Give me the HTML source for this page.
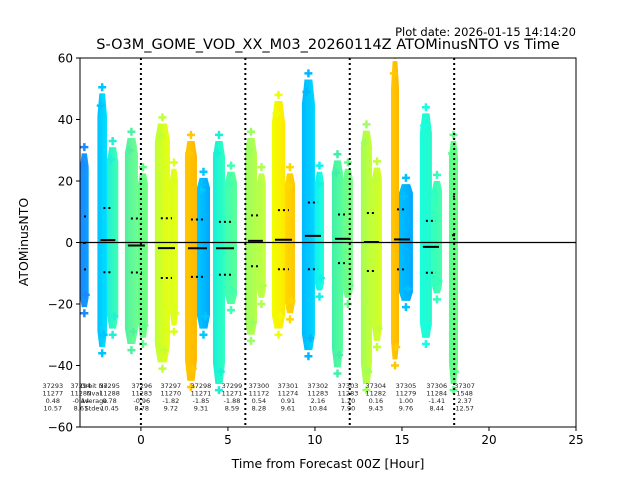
<!DOCTYPE html>
<html><head><meta charset="utf-8"><style>
body{margin:0;background:#fff;font-family:"Liberation Sans","DejaVu Sans",sans-serif}
svg{display:block}
</style></head><body>
<svg id="chart" width="640" height="480" xmlns="http://www.w3.org/2000/svg" font-family="DejaVu Sans, Liberation Sans, sans-serif">
<defs><clipPath id="pc"><rect x="80" y="58" width="496" height="369"/></clipPath></defs>
<text x="576" y="36" font-size="11.5" text-anchor="end">Plot date: 2026-01-15 14:14:20</text>
<text x="328" y="49" font-size="14.5" text-anchor="middle">S-O3M_GOME_VOD_XX_M03_20260114Z ATOMinusNTO vs Time</text>
<g id="marks" clip-path="url(#pc)"></g>
<g id="axes"></g>
<text x="328" y="468" font-size="12.5" text-anchor="middle">Time from Forecast 00Z [Hour]</text>
<text x="28" y="242" font-size="12.5" text-anchor="middle" transform="rotate(-90 28 242)">ATOMinusNTO</text>
</svg>
<script>
const orbitIds=["37293","37294","37295","37296","37297","37298","37299","37300","37301","37302","37303","37304","37305","37306","37307"];
const orbitNval=["11277","11280","11288","11283","11270","11271","11271","11172","11274","11283","11283","11282","11279","11284","1548"];
const orbitMean=[0.48,-0.14,0.78,-0.96,-1.82,-1.85,-1.88,0.54,0.91,2.16,1.20,0.16,1.00,-1.41,2.37];
const orbitStd=[10.57,8.61,10.45,8.78,9.72,9.31,8.59,8.28,9.61,10.84,7.90,9.43,9.76,8.44,12.57];
const orbitLabelTime=[-5.06,-3.45,-1.8,0.05,1.72,3.45,5.23,6.78,8.45,10.17,11.9,13.5,15.23,17.0,18.6];
// segments per orbit: [t0, t1, ymin, ymax, color0, color1]
const orbitSegments=[
 [],
 [[-3.5,-3.0,-21,29,"#1e88ff","#0aa0ff"]],
 [[-2.5,-1.95,-34,48.5,"#00c4ff","#00e0ff"],[-1.95,-1.3,-28,31,"#20f0d8","#40ffb0"]],
 [[-0.92,-0.17,-33,34,"#50f0a0","#70ff90"],[-0.17,0.4,-31,22.5,"#60ff88","#70ff80"]],
 [[0.8,1.67,-39,38.7,"#c0ff38","#e8ff10"],[1.67,2.13,-27,24,"#d8ff20","#e8ff10"]],
 [[2.53,3.22,-45,33,"#ffc800","#ffb800"],[3.22,3.97,-28,21,"#00c8ff","#00a8ff"]],
 [[4.14,4.83,-46,33,"#18f0d8","#30ffc0"],[4.83,5.52,-20,23,"#40ffb0","#58ff98"]],
 [[5.98,6.67,-30,34,"#98ff60","#b8ff48"],[6.67,7.18,-18,22.5,"#b0ff50","#c8ff38"]],
 [[7.53,8.28,-28,46,"#f0ff00","#ffe800"],[8.28,8.85,-23,22.5,"#ffd800","#ffc800"]],
 [[9.25,10.0,-35,53,"#00b8ff","#00d8ff"],[10.0,10.52,-15.6,23,"#10f0f0","#20ffd8"]],
 [[10.98,11.61,-40.6,26.7,"#40f0a8","#58ff98"],[11.61,12.18,-18,24,"#68ff88","#78ff80"]],
 [[12.64,13.28,-46,36.4,"#a0ff58","#c8ff30"],[13.28,13.85,-32,24.4,"#c0ff38","#d8ff20"]],
 [[14.37,14.83,-38,59,"#ffc800","#ffb800"],[14.83,15.63,-19,19,"#00c0ff","#00a8ff"]],
 [[16.03,16.72,-31,42,"#18ffe0","#28f8c8"],[16.72,17.3,-16.5,20,"#30ffc0","#48ffa8"]],
 [[17.7,18.22,-46,33,"#58ff88","#68ff80"]]
];
const xTicks=[0,5,10,15,20,25];
const yTicks=[-60,-40,-20,0,20,40,60];
const dayLines=[0,6,12,18];

const NS="http://www.w3.org/2000/svg";
const X0=-3.5,X1=25,PX0=80,PX1=576,Y0=-60,Y1=60,PY0=427,PY1=58;
function xs(h){return PX0+(h-X0)*(PX1-PX0)/(X1-X0);}
function ys(v){return PY0+(v-Y0)*(PY1-PY0)/(Y1-Y0);}
function mk(tag,attrs,parent){const e=document.createElementNS(NS,tag);for(const k in attrs)e.setAttribute(k,attrs[k]);parent.appendChild(e);return e;}
const svg=document.getElementById('chart');
const defs=svg.querySelector('defs');
const marks=document.getElementById('marks');
const axes=document.getElementById('axes');

let gi=0;
orbitSegments.forEach((segs,i)=>{
  if(!segs.length)return;
  const g=mk('g',{},marks);
  
  
  let tmin=1e9,tmax=-1e9;
  segs.forEach(s=>{
    const id='gr'+(gi++);
    const lg=mk('linearGradient',{id:id,x1:'0',x2:'1',y1:'0',y2:'0'},defs);
    mk('stop',{offset:'0','stop-color':s[4]},lg);mk('stop',{offset:'1','stop-color':s[5]},lg);
    const x=xs(s[0]),w=xs(s[1])-xs(s[0]);
    const yT=ys(s[3]),yB=ys(s[2]);
    const yTf=ys(s[3]*0.85),yBf=ys(s[2]*0.85);
    const pts=[[x+w*0.2,yT],[x+w*0.8,yT],[x+w,yTf],[x+w,yBf],[x+w*0.8,yB],[x+w*0.2,yB],[x,yBf],[x,yTf]];
    const r=mk('polygon',{points:pts.map(p=>p.join(',')).join(' '),fill:'url(#'+id+')'},g);
    
    
    [s[3]+2,s[2]-2,s[3]-4,s[2]+4].forEach((v,k)=>{
      const cx=x+w*(k<2?0.5:(k==2?0.35:0.65)),cy=ys(v);
      const p=mk('path',{d:`M${cx-4},${cy}h8M${cx},${cy-4}v8`,stroke:s[4],'stroke-width':2.5},g);
      
      
    });
    tmin=Math.min(tmin,s[0]);tmax=Math.max(tmax,s[1]);
  });
  const a=xs(tmin)+3,b=xs(tmax)-3;
  const m=mk('line',{x1:a,x2:b,y1:ys(orbitMean[i]),y2:ys(orbitMean[i]),stroke:'#000','stroke-width':2},g);
  
  
  [orbitMean[i]+orbitStd[i],orbitMean[i]-orbitStd[i]].forEach(v=>{
    const d=mk('line',{x1:a+3,x2:b-3,y1:ys(v),y2:ys(v),stroke:'#000','stroke-width':2,'stroke-dasharray':'2,3'},g);
    
    
  });
});

const z=mk('line',{x1:PX0,x2:PX1,y1:ys(0),y2:ys(0),stroke:'#000','stroke-width':1.2},marks);


dayLines.forEach(h=>{
  const l=mk('line',{x1:xs(h),x2:xs(h),y1:PY1,y2:PY0,stroke:'#000','stroke-width':2,'stroke-dasharray':'2,3'},marks);
  
  
});

orbitIds.forEach((id,i)=>{
  const t=mk('text',{x:xs(orbitLabelTime[i]),y:388,'font-size':6.5,'text-anchor':'middle',fill:'#222'},axes);
  
  
  [id,orbitNval[i],orbitMean[i].toFixed(2),orbitStd[i].toFixed(2)].forEach((s,k)=>{
    const ts=mk('tspan',{x:xs(orbitLabelTime[i]),dy:k?7.5:0},t);ts.textContent=s;
  });
});
const lgd=mk('text',{x:xs(-2.7),y:388,'font-size':6.5,'text-anchor':'middle',fill:'#222'},axes);


["Orbit No","Nval","Average","Stdev"].forEach((s,k)=>{const ts=mk('tspan',{x:xs(-2.7),dy:k?7.5:0},lgd);ts.textContent=s;});

const fr=mk('rect',{x:PX0,y:PY1,width:PX1-PX0,height:PY0-PY1,fill:'none',stroke:'#000','stroke-width':1},axes);


xTicks.forEach(v=>{
  const x=xs(v);
  const tk=mk('line',{x1:x,x2:x,y1:PY0,y2:PY0+4,stroke:'#000'},axes);
  
  
  const t=mk('text',{x:x,y:PY0+17,'font-size':12,'text-anchor':'middle'},axes);
  
  
  t.textContent=v;
});
yTicks.forEach(v=>{
  const y=ys(v);
  const tk=mk('line',{x1:PX0-4,x2:PX0,y1:y,y2:y,stroke:'#000'},axes);
  
  
  const t=mk('text',{x:PX0-7,y:y+4.5,'font-size':12,'text-anchor':'end'},axes);
  
  
  t.textContent=v<0?'\u2212'+(-v):v;
});
</script>
</body></html>
